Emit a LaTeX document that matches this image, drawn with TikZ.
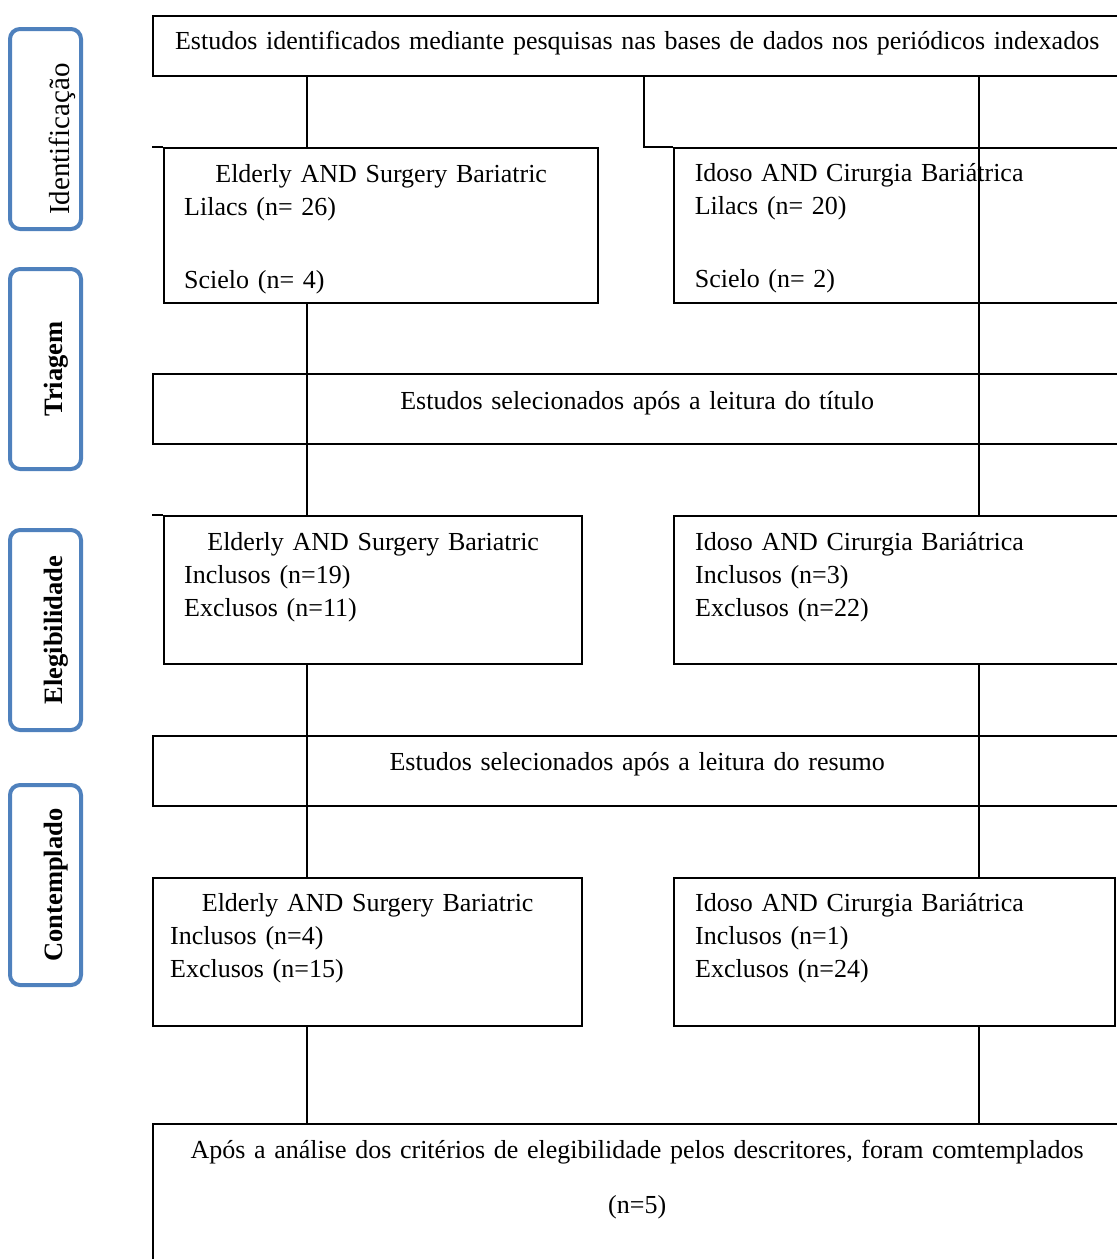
\documentclass[tikz,border=0pt]{standalone}
\usepackage{fontspec}
\setmainfont{Liberation Serif}
\usepackage{tikz}
\usetikzlibrary{positioning}
\definecolor{phaseblue}{RGB}{79,129,189}
\newcommand{\midline}[1]{\hspace*{\fill}#1\hspace*{\fill}\mbox{}}

\begin{document}
\begin{tikzpicture}[x=1pt, y=-1pt, line width=2pt,
font=\fontsize{26}{33}\selectfont,
wide/.style={draw, line width=2.4pt, anchor=north west, align=center, inner sep=0pt, text width=968pt},
leftbox/.style={draw, line width=2.4pt, anchor=north west, align=left, inner xsep=20pt, inner ysep=0pt, fill=white},
rightbox/.style={draw, line width=2.4pt, anchor=north west, align=left, inner xsep=21pt, inner ysep=0pt, fill=white},
phase/.style={draw=phaseblue, line width=4pt, rounded corners=10pt, rotate=90, minimum width=200pt, minimum height=71pt, inner sep=0pt, text height=36pt, text depth=2pt, font=\fontsize{26.5}{33}\selectfont\bfseries}]
\useasboundingbox (0,0) rectangle (1117,1259);

% phases
\node[phase, font=\fontsize{29}{33}\selectfont, text height=50pt] (p1) at (45.5,129) {Identificação\hspace*{20pt}\mbox{}};
\node[phase] (p2) at (45.5,369) {Triagem};
\node[phase] (p3) at (45.5,630) {Elegibilidade};
\node[phase] (p4) at (45.5,885) {Contemplado};

% boxes
\node[wide, text height=33pt, text depth=27pt] (top) at (152,15) {Estudos identificados mediante pesquisas nas bases de dados nos periódicos indexados};
\node[leftbox, text width=394pt, text height=34pt, text depth=121pt] (idL) at (163,147) {\midline{Elderly AND Surgery Bariatric}\\ Lilacs (n= 26)\\[40pt] Scielo (n= 4)};
\node[rightbox, line width=1.6pt, fill=none, text width=405pt, text height=34pt, text depth=121pt] (idR) at (673,147) {Idoso AND Cirurgia Bariátrica\\ Lilacs (n= 20)\\[40pt] Scielo (n= 2)};
\node[wide, text height=35pt, text depth=35pt] (tri) at (152,373) {Estudos selecionados após a leitura do título};
\node[leftbox, text width=378pt, text height=34pt, text depth=114pt] (eleL) at (163,515) {\midline{Elderly AND Surgery Bariatric}\\ Inclusos (n=19)\\ Exclusos (n=11)};
\node[rightbox, text width=405pt, text height=34pt, text depth=114pt] (eleR) at (673,515) {Idoso AND Cirurgia Bariátrica\\ Inclusos (n=3)\\ Exclusos (n=22)};
\node[wide, text height=34pt, text depth=36pt] (res) at (152,735) {Estudos selecionados após a leitura do resumo};
\node[leftbox, inner xsep=17pt, text width=395pt, text height=33pt, text depth=115pt] (conL) at (152,877) {\midline{Elderly AND Surgery Bariatric}\\ Inclusos (n=4)\\ Exclusos (n=15)};
\node[rightbox, text width=399pt, text height=33pt, text depth=115pt] (conR) at (673,877) {Idoso AND Cirurgia Bariátrica\\ Inclusos (n=1)\\ Exclusos (n=24)};
\node[wide, text height=34pt, text depth=105pt] (final) at (152,1123) {Após a análise dos critérios de elegibilidade pelos descritores, foram comtemplados\\[22pt](n=5)};

% columns
\coordinate (colL) at (307,0);
\coordinate (colM) at (644,0);
\coordinate (colR) at (979,0);

\draw (top.south -| colL) -- (idL.north -| colL);
\draw (idL.south -| colL) -- (eleL.north -| colL);
\draw (eleL.south -| colL) -- (conL.north -| colL);
\draw (conL.south -| colL) -- (final.north -| colL);
\draw (top.south -| colM) |- (idR.north west);
\draw (top.south -| colR) -- (eleR.north -| colR);
\draw (eleR.south -| colR) -- (conR.north -| colR);
\draw (conR.south -| colR) -- (final.north -| colR);
\draw (idL.north west) -- ++(-11,0);
\draw (eleL.north west) -- ++(-11,0);
\end{tikzpicture}
\end{document}
